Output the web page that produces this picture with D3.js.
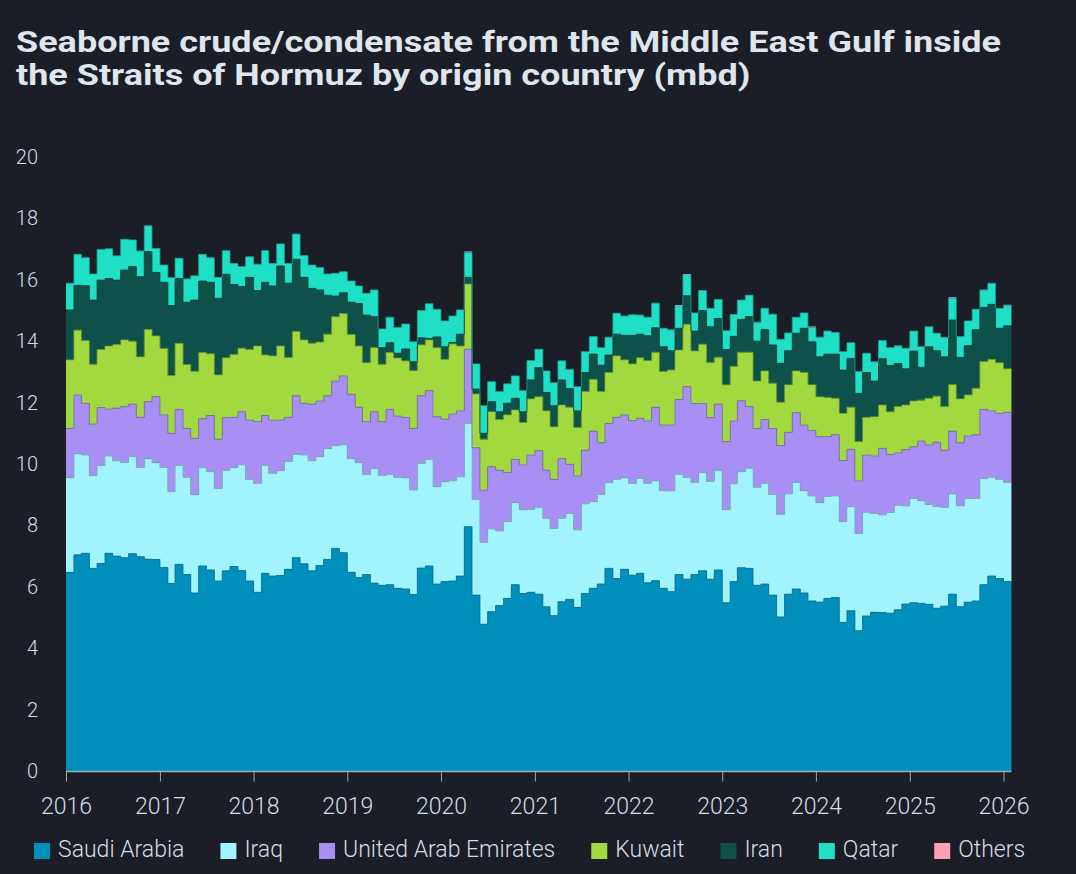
<!DOCTYPE html>
<html>
<head>
<meta charset="utf-8">
<script src="https://cdn.jsdelivr.net/npm/d3@7"></script>
<style>
  html, body { margin: 0; padding: 0; background: #1b1d27; }
  svg { display: block; }
</style>
</head>
<body>
<svg id="chart"></svg>
<script>
// monthly values, Jan 2016 .. Jan 2026 (mbd)
let saudiArabia = [
  6.47, 7.04, 7.09, 6.60, 6.76, 7.09, 7.00, 6.95, 7.08, 6.98, 6.90, 6.89,
  6.63, 6.11, 6.73, 6.40, 5.80, 6.68, 6.55, 6.19, 6.52, 6.66, 6.53, 6.19,
  5.82, 6.44, 6.35, 6.37, 6.57, 6.95, 6.75, 6.52, 6.69, 6.89, 7.25, 7.11,
  6.47, 6.30, 6.40, 6.12, 6.05, 6.07, 5.95, 5.93, 5.75, 6.61, 6.68, 6.09,
  6.17, 6.19, 6.35, 7.96, 5.73, 4.78, 5.19, 5.39, 5.62, 6.07, 5.78, 5.82,
  5.76, 5.35, 5.06, 5.51, 5.59, 5.33, 5.78, 5.95, 6.09, 6.60, 6.27, 6.57,
  6.38, 6.44, 6.13, 6.20, 5.95, 5.84, 6.40, 6.25, 6.40, 6.52, 6.25, 6.55,
  5.48, 6.17, 6.62, 6.60, 6.05, 6.09, 5.73, 5.02, 5.76, 5.93, 5.80, 5.54,
  5.50, 5.62, 5.65, 4.84, 5.22, 4.57, 5.05, 5.17, 5.16, 5.14, 5.25, 5.44,
  5.48, 5.46, 5.43, 5.30, 5.37, 5.76, 5.35, 5.50, 5.54, 6.07, 6.35, 6.27,
  6.17
];
let iraq = [
  3.08, 3.29, 3.20, 3.02, 3.19, 3.17, 3.10, 3.10, 3.16, 2.91, 3.27, 3.15,
  3.26, 2.99, 3.22, 3.17, 3.20, 3.20, 3.20, 3.01, 3.28, 3.22, 3.44, 3.31,
  3.55, 3.51, 3.35, 3.41, 3.51, 3.36, 3.54, 3.58, 3.55, 3.61, 3.35, 3.51,
  3.70, 3.74, 3.26, 3.73, 3.58, 3.60, 3.62, 3.62, 3.40, 3.41, 3.47, 3.17,
  3.25, 3.26, 3.23, 3.36, 3.12, 2.67, 2.69, 2.43, 2.50, 2.67, 2.73, 2.71,
  2.83, 2.88, 2.84, 2.72, 2.80, 2.52, 2.92, 2.82, 2.92, 2.79, 3.23, 2.98,
  2.99, 3.09, 3.24, 3.25, 3.18, 3.28, 3.27, 3.32, 3.00, 3.20, 3.19, 3.23,
  3.03, 3.18, 3.13, 3.26, 3.19, 3.28, 3.28, 3.34, 3.26, 3.47, 3.33, 3.42,
  3.24, 3.32, 3.31, 3.28, 3.39, 3.17, 3.38, 3.22, 3.18, 3.28, 3.41, 3.19,
  3.40, 3.34, 3.25, 3.31, 3.22, 3.26, 3.29, 3.38, 3.34, 3.46, 3.22, 3.23,
  3.23
];
let uae = [
  1.61, 1.92, 1.69, 1.68, 1.89, 1.53, 1.72, 1.82, 1.71, 1.63, 1.86, 2.15,
  1.71, 1.90, 1.83, 1.59, 1.84, 1.59, 1.83, 1.61, 1.71, 1.64, 1.73, 1.93,
  2.01, 1.63, 1.73, 1.65, 1.44, 1.91, 1.69, 1.85, 1.81, 1.72, 2.10, 2.25,
  2.10, 1.81, 1.72, 1.85, 1.75, 2.11, 1.99, 1.97, 2.01, 2.20, 2.24, 2.28,
  2.04, 2.18, 2.15, 2.42, 1.68, 1.70, 2.03, 1.98, 1.60, 1.41, 1.46, 1.76,
  1.84, 1.57, 1.60, 1.95, 1.60, 1.76, 1.75, 2.30, 1.68, 1.93, 2.02, 2.05,
  2.04, 1.96, 2.03, 2.40, 2.14, 2.15, 2.43, 2.95, 2.57, 2.25, 2.07, 2.17,
  2.22, 2.05, 2.31, 2.01, 1.92, 2.08, 2.15, 2.24, 2.01, 2.27, 2.14, 2.13,
  2.15, 1.95, 1.99, 1.99, 1.87, 1.71, 1.86, 1.87, 2.17, 1.89, 1.70, 1.84,
  1.68, 1.95, 1.94, 2.10, 1.86, 2.05, 2.05, 2.03, 2.07, 2.25, 2.16, 2.15,
  2.28
];
let kuwait = [
  2.23, 2.11, 2.04, 1.95, 1.89, 2.05, 2.07, 2.17, 2.05, 1.97, 2.35, 1.98,
  2.16, 1.88, 2.15, 2.08, 2.18, 2.16, 2.01, 2.09, 1.95, 2.05, 2.07, 2.30,
  2.46, 1.97, 2.09, 2.41, 1.95, 2.10, 2.06, 1.98, 1.92, 2.01, 2.10, 2.03,
  1.95, 1.99, 1.92, 2.09, 1.87, 1.85, 1.89, 1.84, 1.88, 1.66, 1.65, 2.25,
  1.95, 2.28, 2.11, 2.12, 1.75, 1.66, 1.79, 1.65, 1.88, 1.61, 1.38, 1.83,
  1.76, 1.93, 1.71, 1.74, 1.86, 1.58, 1.91, 1.69, 1.67, 1.66, 2.00, 1.79,
  1.85, 1.97, 1.97, 1.79, 1.74, 1.79, 1.61, 2.03, 1.71, 1.93, 1.80, 1.53,
  1.85, 1.78, 1.58, 1.77, 1.54, 1.58, 1.47, 1.41, 1.55, 1.36, 1.71, 1.49,
  1.30, 1.28, 1.19, 1.54, 1.37, 1.28, 1.23, 1.28, 1.41, 1.39, 1.51, 1.45,
  1.49, 1.33, 1.52, 1.50, 1.42, 1.52, 1.43, 1.34, 1.52, 1.56, 1.68, 1.65,
  1.42
];
let iran = [
  1.63, 1.46, 1.79, 2.09, 2.26, 2.20, 2.10, 2.28, 2.43, 2.61, 2.54, 2.07,
  2.16, 2.28, 2.11, 2.03, 2.32, 2.33, 2.33, 2.50, 2.72, 2.28, 2.01, 2.35,
  1.81, 2.37, 2.28, 2.61, 2.42, 2.35, 2.04, 1.79, 1.70, 1.27, 0.67, 0.68,
  1.05, 1.39, 1.55, 1.01, 0.54, 0.32, 0.16, 0.39, 0.29, 0.23, 0.05, 0.35,
  0.41, 0.05, 0.39, 0.22, 0.16, 0.19, 0.33, 0.25, 0.38, 0.38, 0.35, 0.62,
  0.95, 0.60, 0.69, 0.82, 0.61, 0.54, 0.62, 0.82, 0.86, 0.57, 0.71, 0.80,
  0.93, 0.77, 0.81, 0.80, 0.81, 0.63, 0.71, 0.93, 0.65, 1.10, 1.16, 1.26,
  1.15, 0.98, 1.07, 1.16, 1.30, 1.35, 1.25, 1.27, 1.11, 1.23, 1.44, 1.40,
  1.30, 1.41, 1.44, 1.41, 1.59, 1.57, 1.46, 1.16, 1.51, 1.51, 1.40, 1.18,
  1.63, 1.07, 1.68, 1.48, 1.62, 2.10, 1.35, 1.60, 1.90, 1.76, 1.79, 1.12,
  1.40
];
let qatar = [
  0.87, 1.01, 0.91, 0.85, 1.00, 0.97, 0.79, 1.00, 0.87, 0.84, 0.84, 0.78,
  0.56, 0.91, 0.66, 0.76, 0.79, 0.87, 0.80, 0.68, 0.77, 0.68, 0.65, 0.67,
  0.86, 1.03, 0.73, 0.72, 0.64, 0.82, 0.71, 0.76, 0.73, 0.69, 0.74, 0.68,
  0.69, 0.57, 0.71, 0.87, 0.61, 0.83, 0.84, 0.81, 0.65, 0.89, 1.13, 0.90,
  0.84, 0.86, 0.79, 0.81, 0.82, 0.90, 0.65, 0.66, 0.63, 0.73, 0.69, 0.63,
  0.60, 0.70, 0.75, 0.62, 0.62, 0.79, 0.68, 0.57, 0.57, 0.58, 0.68, 0.63,
  0.67, 0.62, 0.60, 0.80, 0.60, 0.68, 0.73, 0.68, 0.59, 0.65, 0.60, 0.62,
  0.61, 0.71, 0.63, 0.70, 0.62, 0.69, 1.00, 0.78, 0.58, 0.52, 0.50, 0.47,
  0.64, 0.75, 0.70, 0.60, 0.51, 0.71, 0.63, 0.63, 0.59, 0.58, 0.58, 0.67,
  0.65, 0.67, 0.65, 0.57, 0.63, 0.71, 0.68, 0.81, 0.67, 0.57, 0.69, 0.65,
  0.66
];
let others = [
  0, 0, 0, 0, 0, 0, 0, 0, 0, 0, 0, 0,
  0, 0, 0, 0, 0, 0, 0, 0, 0, 0, 0, 0,
  0, 0, 0, 0, 0, 0, 0, 0, 0, 0, 0, 0,
  0, 0, 0, 0, 0, 0, 0, 0, 0, 0, 0, 0,
  0, 0, 0, 0.03, 0, 0, 0, 0, 0, 0, 0, 0,
  0, 0, 0, 0, 0, 0, 0, 0, 0, 0, 0, 0,
  0, 0, 0, 0, 0, 0, 0.03, 0.03, 0, 0, 0, 0,
  0, 0, 0, 0, 0, 0, 0, 0, 0, 0, 0, 0.03,
  0, 0, 0, 0, 0, 0, 0, 0, 0, 0, 0, 0,
  0, 0, 0, 0, 0, 0.03, 0, 0, 0, 0, 0, 0,
  0.03
];

let keys = ["Saudi Arabia", "Iraq", "United Arab Emirates", "Kuwait", "Iran", "Qatar", "Others"];
let series = [saudiArabia, iraq, uae, kuwait, iran, qatar, others];
let colors = ["#0190bb", "#a1f3fd", "#a78ff3", "#a2d93e", "#0e514b", "#1fe0c7", "#ff9fb6"];

let yTicks = [0, 2, 4, 6, 8, 10, 12, 14, 16, 18, 20];
let yearTicks = [2016, 2017, 2018, 2019, 2020, 2021, 2022, 2023, 2024, 2025, 2026];

let titleLines = [
  "Seaborne crude/condensate from the Middle East Gulf inside",
  "the Straits of Hormuz by origin country (mbd)"
];

let w = 1076;
let h = 874;
let bg = "#1b1d27";
let textColor = "#d6dce3";

let months = d3.timeMonth.range(new Date(2016, 0, 1), new Date(2016, saudiArabia.length, 1));

// one row per month, plus a closing row so the last step has a width
let rows = months.map((d, i) => {
  let r = { date: d };
  keys.forEach((k, j) => { r[k] = series[j][i]; });
  return r;
});
let last = Object.assign({}, rows[rows.length - 1]);
last.date = new Date(2016, saudiArabia.length, 1);
rows.push(last);

let svg = d3.select("#chart")
  .attr("width", w)
  .attr("height", h)
  .style("background", bg);

let scalex = d3.scaleTime()
  .domain([new Date(2016, 0, 1), new Date(2026, 0, 1)])
  .range([66, 1003.5]);

let scaley = d3.scaleLinear()
  .domain([0, 20])
  .range([771, 157]);

// title, squeezed to the width of the original condensed face
let title = svg.append("g");
let t1 = title.append("text")
  .attr("x", 16).attr("y", 52)
  .text(titleLines[0]);
let t2 = title.append("text")
  .attr("x", 16).attr("y", 85)
  .text(titleLines[1]);
title.selectAll("text")
  .attr("fill", "#dfe5eb")
  .attr("font-family", "Roboto, sans-serif")
  .attr("font-weight", 700)
  .attr("font-size", "30px");
let squeeze = 985 / t1.node().getComputedTextLength();
[t1, t2].forEach(t => {
  t.attr("textLength", t.node().getComputedTextLength() * squeeze)
   .attr("lengthAdjust", "spacingAndGlyphs");
});

// stacked step areas
let stacked = d3.stack().keys(keys)(rows);

let area = d3.area()
  .curve(d3.curveStepAfter)
  .x(d => scalex(d.data.date))
  .y0(d => scaley(d[0]))
  .y1(d => scaley(d[1]));

let edge = d3.line()
  .curve(d3.curveStepAfter)
  .x(d => scalex(d.data.date))
  .y(d => scaley(d[1]));

let layers = svg.append("g");

layers.selectAll("path.layer")
  .data(stacked)
  .enter()
  .append("path")
  .attr("class", "layer")
  .attr("d", area)
  .attr("fill", (d, i) => colors[i]);

// thin darker line along the top of each band (not for the tiny "Others")
layers.selectAll("path.edge")
  .data(stacked.slice(0, 6))
  .enter()
  .append("path")
  .attr("class", "edge")
  .attr("d", edge)
  .attr("fill", "none")
  .attr("stroke", (d, i) => d3.color(colors[i]).darker(0.8))
  .attr("stroke-width", 0.8);

// y labels (no axis line)
svg.append("g")
  .selectAll("text")
  .data(yTicks)
  .enter()
  .append("text")
  .attr("x", 38)
  .attr("y", d => scaley(d) + 7)
  .attr("text-anchor", "end")
  .attr("fill", textColor)
  .attr("font-family", "Roboto, sans-serif")
  .attr("font-weight", 300)
  .attr("font-size", "20px")
  .text(d => d);

// x axis
let xAxis = d3.axisBottom(scalex)
  .tickValues(yearTicks.map(y => new Date(y, 0, 1)))
  .tickFormat(d3.timeFormat("%Y"))
  .tickSize(10)
  .tickPadding(16)
  .tickSizeOuter(0);

let gx = svg.append("g")
  .attr("transform", "translate(0," + 771.5 + ")")
  .call(xAxis);
gx.select(".domain")
  .attr("stroke", "#a4a9af")
  .attr("stroke-width", 1.5)
  .attr("d", "M66,0H1011.5");
gx.selectAll(".tick line")
  .attr("stroke", "#a4a9af")
  .attr("stroke-width", 1);
gx.selectAll(".tick text")
  .attr("fill", textColor)
  .attr("font-family", "Roboto, sans-serif")
  .attr("font-weight", 300)
  .attr("font-size", "23px");

// legend
let legend = svg.append("g");
let lx = 34;
keys.forEach((k, i) => {
  legend.append("rect")
    .attr("x", lx)
    .attr("y", 843)
    .attr("width", 16)
    .attr("height", 16)
    .attr("fill", colors[i]);
  let txt = legend.append("text")
    .attr("x", lx + 24)
    .attr("y", 857)
    .attr("fill", textColor)
    .attr("font-family", "Roboto, sans-serif")
    .attr("font-weight", 300)
    .attr("font-size", "23px")
    .text(k);
  lx = lx + 24 + txt.node().getComputedTextLength() + 36;
});
</script>
</body>
</html>
